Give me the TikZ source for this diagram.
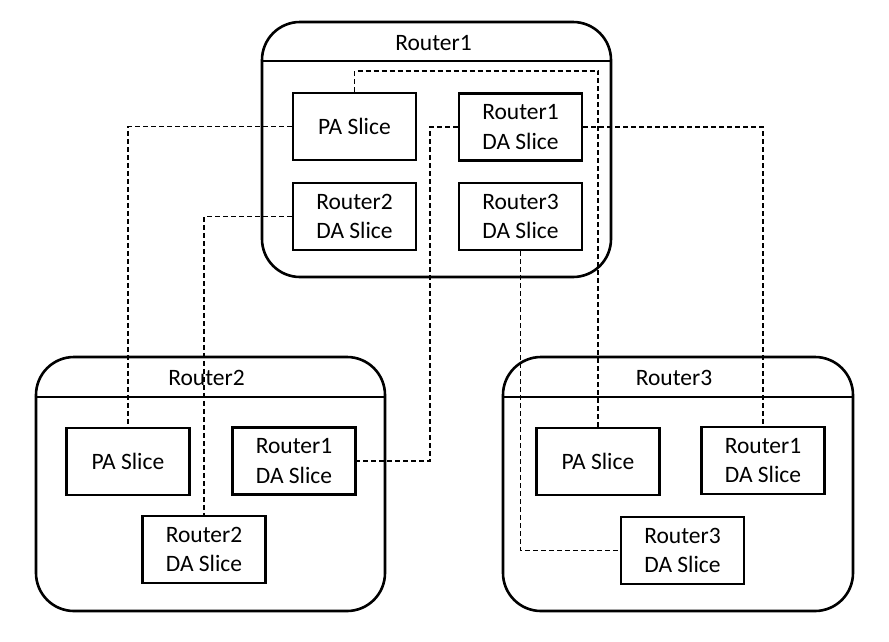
\documentclass[tikz,border=0pt]{standalone}
\usepackage{fontspec}
\setmainfont{Carlito}
\begin{document}
\begin{tikzpicture}[x=1pt,y=-1pt,
  router/.style={draw, line width=2.6pt, rounded corners=38pt, fill=white, inner sep=0pt},
  slice/.style={draw, line width=2.6pt, fill=white, minimum width=123pt, minimum height=67pt, inner sep=0pt, align=center, font=\fontsize{23.5}{29.5}\selectfont},
  title/.style={font=\fontsize{23.5}{29.5}\selectfont, inner sep=0pt},
  hdr/.style={line width=1.6pt},
  conn/.style={dashed, dash pattern=on 5pt off 3pt, line width=1.7pt}]
\useasboundingbox (0,0) rectangle (889,641);
% router boxes
\node[router, minimum width=349pt, minimum height=255pt] (R1) at (436.5,149.5) {};
\node[router, minimum width=349pt, minimum height=254pt] (R2) at (210.5,484) {};
\node[router, minimum width=350pt, minimum height=254pt] (R3) at (678,484) {};
\draw[hdr] (R1.west |- 0,61) -- (R1.east |- 0,61);
\draw[hdr] (R2.west |- 0,397) -- (R2.east |- 0,397);
\draw[hdr] (R3.west |- 0,397) -- (R3.east |- 0,397);
\node[title] (t1) at (433.5,43) {Router1};
\node[title] (t2) at (206.5,378) {Router2};
\node[title] (t3) at (674,378) {Router3};
% Router1 slices
\node[slice] (r1pa) at (354.5,126.5) {PA Slice};
\node[slice] (r1r1) at (520.5,127) {Router1\\DA Slice};
\node[slice] (r1r2) at (354.5,216.5) {Router2\\DA Slice};
\node[slice] (r1r3) at (520.5,216.5) {Router3\\DA Slice};
% Router2 slices
\node[slice] (r2pa) at (128,461.5) {PA Slice};
\node[slice] (r2r1) at (294,461) {Router1\\DA Slice};
\node[slice] (r2r2) at (204,549.5) {Router2\\DA Slice};
% Router3 slices
\node[slice] (r3pa) at (598,461.5) {PA Slice};
\node[slice] (r3r1) at (763,460.5) {Router1\\DA Slice};
\node[slice] (r3r3) at (682.5,550.5) {Router3\\DA Slice};
% connectors
\draw[conn] (r1pa.west) -| (r2pa.north);
\draw[conn] (r1pa.north) -- ++(0,-21) -| (r3pa.north);
\draw[conn] (r1r1.west) -- ++(-28,0) |- (r2r1.east);
\draw[conn] (r1r1.east) -| (r3r1.north);
\draw[conn] (r1r2.west) -| (r2r2.north);
\draw[conn] (r1r3.south) |- (r3r3.west);
\end{tikzpicture}
\end{document}
